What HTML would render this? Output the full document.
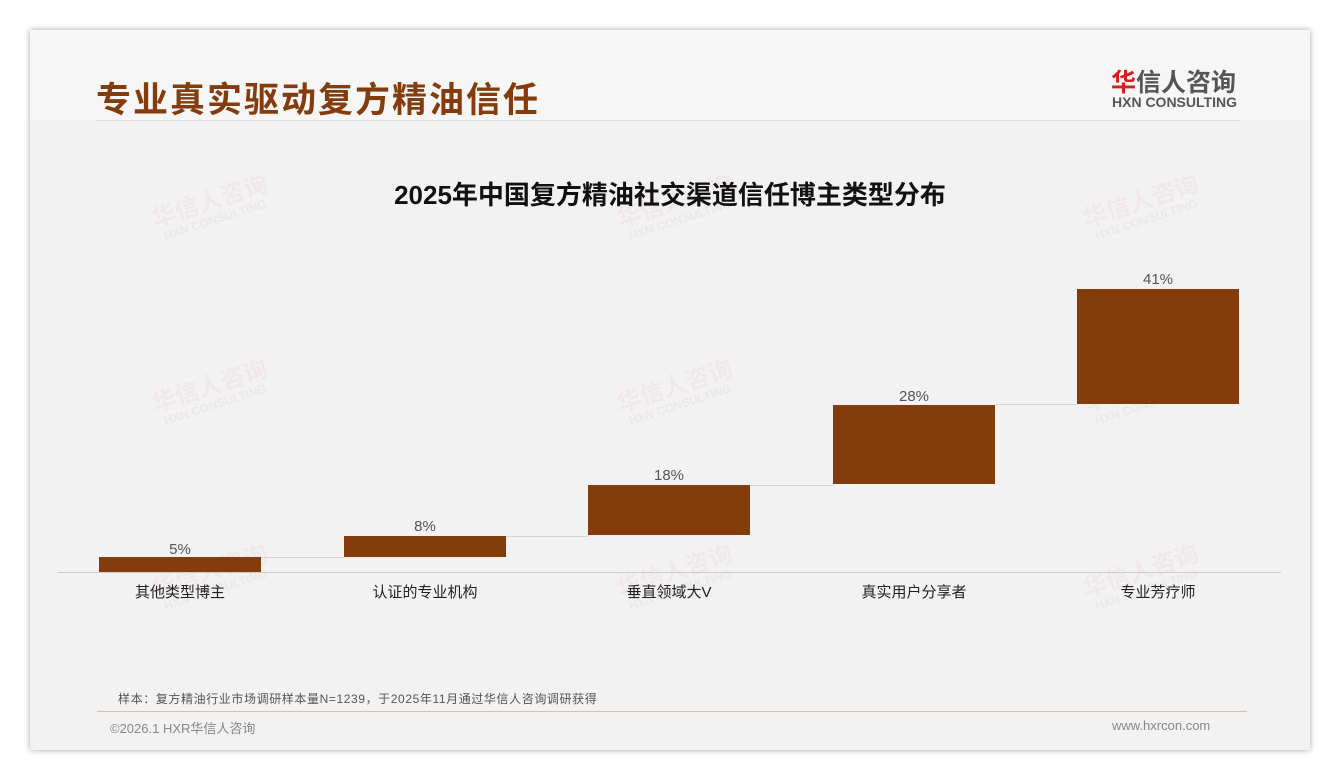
<!DOCTYPE html>
<html><head><meta charset="utf-8"><style>
body{margin:0;width:1340px;height:780px;background:#fff;position:relative;overflow:hidden;font-family:"Liberation Sans","Noto Sans CJK SC",sans-serif}
.card{position:absolute;left:30px;top:30px;width:1280px;height:720px;background:#f2f2f2;box-shadow:0 0 6px rgba(0,0,0,.35)}
.hdr{position:absolute;left:0;top:0;width:1280px;height:90px;background:#f6f6f6}
.t{position:absolute;white-space:nowrap}
.bar{position:absolute;background:#843c0c}
.ln{position:absolute;background:#d6d6d6;height:1px}
.wm{position:absolute;transform:rotate(-18deg);color:rgba(220,120,120,.08);font-weight:bold;font-size:24px;white-space:nowrap;line-height:1}
.wm span{display:block;font-size:12px;color:rgba(150,150,150,.10);margin-left:6px}
</style></head><body>
<div class="card"><div class="hdr"></div></div>
<div class="wm" style="left:152px;top:190px">华信人咨询<span>HXN CONSULTING</span></div>
<div class="wm" style="left:617px;top:190px">华信人咨询<span>HXN CONSULTING</span></div>
<div class="wm" style="left:1083px;top:190px">华信人咨询<span>HXN CONSULTING</span></div>
<div class="wm" style="left:152px;top:375px">华信人咨询<span>HXN CONSULTING</span></div>
<div class="wm" style="left:617px;top:375px">华信人咨询<span>HXN CONSULTING</span></div>
<div class="wm" style="left:1083px;top:375px">华信人咨询<span>HXN CONSULTING</span></div>
<div class="wm" style="left:152px;top:560px">华信人咨询<span>HXN CONSULTING</span></div>
<div class="wm" style="left:617px;top:560px">华信人咨询<span>HXN CONSULTING</span></div>
<div class="wm" style="left:1083px;top:560px">华信人咨询<span>HXN CONSULTING</span></div>

<div class="t" style="left:96px;top:72px;font-size:35px;font-weight:bold;color:#843c0c;letter-spacing:2px">专业真实驱动复方精油信任</div>
<div class="t" style="left:1111px;top:63px;font-size:25px;font-weight:bold;color:#555"><span style="color:#d42020">华</span>信人咨询</div>
<div class="t" style="left:1112px;top:94px;font-size:14px;font-weight:bold;color:#555">HXN CONSULTING</div>
<div class="ln" style="left:97px;top:120px;width:1143px;background:#ddd"></div>

<div class="t" style="left:0;width:1340px;text-align:center;top:175px;font-size:26px;font-weight:bold;color:#111">2025年中国复方精油社交渠道信任博主类型分布</div>

<div class="ln" style="left:261px;top:557px;width:83px"></div>
<div class="ln" style="left:506px;top:536px;width:82px"></div>
<div class="ln" style="left:750px;top:485px;width:83px"></div>
<div class="ln" style="left:995px;top:404px;width:82px"></div>
<div class="bar" style="left:99px;top:557px;width:162px;height:15px"></div>
<div class="bar" style="left:344px;top:536px;width:162px;height:21px"></div>
<div class="bar" style="left:588px;top:485px;width:162px;height:50px"></div>
<div class="bar" style="left:833px;top:405px;width:162px;height:79px"></div>
<div class="bar" style="left:1077px;top:289px;width:162px;height:115px"></div>
<div class="ln" style="left:58px;top:572px;width:1223px;background:#ccc"></div>

<div style="position:absolute;left:0;top:0;font-size:15px;color:#555">
<div class="t" style="left:99px;width:162px;text-align:center;top:541px">5%</div>
<div class="t" style="left:344px;width:162px;text-align:center;top:518px">8%</div>
<div class="t" style="left:588px;width:162px;text-align:center;top:467px">18%</div>
<div class="t" style="left:833px;width:162px;text-align:center;top:388px">28%</div>
<div class="t" style="left:1077px;width:162px;text-align:center;top:271px">41%</div>
</div>
<div style="position:absolute;left:0;top:0;font-size:15px;color:#222">
<div class="t" style="left:79px;width:202px;text-align:center;top:581px">其他类型博主</div>
<div class="t" style="left:324px;width:202px;text-align:center;top:581px">认证的专业机构</div>
<div class="t" style="left:568px;width:202px;text-align:center;top:581px">垂直领域大V</div>
<div class="t" style="left:813px;width:202px;text-align:center;top:581px">真实用户分享者</div>
<div class="t" style="left:1057px;width:202px;text-align:center;top:581px">专业芳疗师</div>
</div>

<div class="t" style="left:118px;top:690px;font-size:12px;color:#555;letter-spacing:0.6px">样本：复方精油行业市场调研样本量N=1239，于2025年11月通过华信人咨询调研获得</div>
<div class="ln" style="left:97px;top:711px;width:1150px;background:#d9c2ad"></div>
<div class="t" style="left:110px;top:718px;font-size:13px;color:#888">©2026.1 HXR华信人咨询</div>
<div class="t" style="left:1112px;top:718px;font-size:13px;color:#888">www.hxrcon.com</div>
</body></html>
